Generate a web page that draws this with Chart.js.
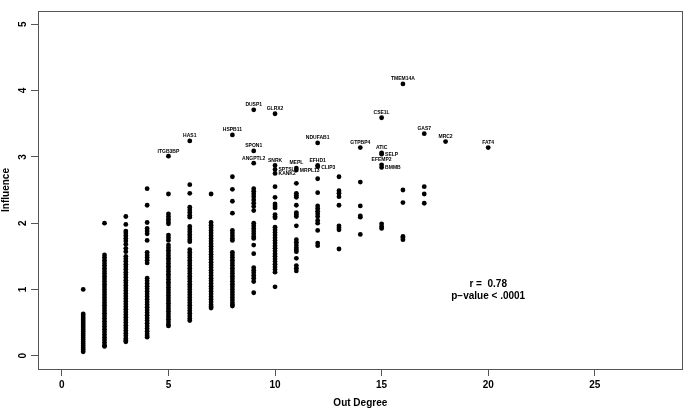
<!DOCTYPE html>
<html><head><meta charset="utf-8">
<script src="https://cdn.jsdelivr.net/npm/chart.js@4/dist/chart.umd.min.js"></script>
<style>html,body{margin:0;padding:0;background:#fff}canvas{display:block}</style>
</head><body>
<canvas id="c" width="685" height="409"></canvas>
<script>
// Influence values per out-degree column (unlabelled points)
const inf1 = [1.00,0.63,0.60,0.57,0.54,0.51,0.48,0.45,0.42,0.39,0.36,0.33,0.30,0.27,0.24,0.21,0.18,0.15,0.12,0.09,0.06];
const inf2 = [2.00,1.52,1.48,1.44,1.40,1.36,1.32,1.28,1.24,1.20,1.16,1.12,1.08,1.04,1.00,0.96,0.92,0.88,0.84,0.80,0.76,0.72,0.68,0.64,0.60,0.56,0.52,0.48,0.44,0.40,0.36,0.32,0.28,0.24,0.20,0.16,0.14];
const inf3 = [2.10,1.98,1.88,1.85,1.81,1.77,1.73,1.68,1.62,1.57,1.50,1.46,1.42,1.38,1.34,1.30,1.26,1.22,1.18,1.14,1.10,1.06,1.02,0.98,0.94,0.90,0.86,0.82,0.78,0.74,0.70,0.66,0.62,0.58,0.54,0.50,0.46,0.42,0.38,0.34,0.30,0.26,0.23,0.21];
const inf4 = [2.52,2.27,2.01,1.92,1.88,1.84,1.74,1.56,1.52,1.48,1.44,1.40,1.17,1.13,1.09,1.05,1.01,0.97,0.93,0.89,0.85,0.81,0.77,0.73,0.69,0.65,0.61,0.57,0.53,0.49,0.45,0.41,0.37,0.33,0.30,0.28];
const inf5 = [2.44,2.14,2.10,2.06,2.02,1.99,1.82,1.78,1.74,1.67,1.63,1.59,1.55,1.51,1.47,1.43,1.39,1.35,1.31,1.27,1.23,1.19,1.15,1.11,1.07,1.03,0.99,0.95,0.91,0.87,0.83,0.79,0.75,0.71,0.67,0.63,0.59,0.55,0.51,0.47,0.45];
const inf6 = [2.58,2.45,2.24,2.20,2.16,2.12,2.09,1.95,1.91,1.87,1.83,1.79,1.75,1.72,1.60,1.56,1.52,1.48,1.44,1.40,1.36,1.32,1.28,1.24,1.20,1.16,1.12,1.08,1.04,1.00,0.96,0.92,0.88,0.84,0.80,0.76,0.72,0.68,0.64,0.60,0.56,0.53];
const inf7 = [2.44,2.01,1.97,1.93,1.89,1.85,1.81,1.77,1.73,1.69,1.65,1.61,1.57,1.53,1.49,1.45,1.41,1.37,1.33,1.29,1.25,1.21,1.17,1.13,1.09,1.05,1.01,0.97,0.93,0.89,0.85,0.81,0.77,0.74,0.72];
const inf8 = [2.70,2.51,2.33,2.15,1.89,1.85,1.81,1.77,1.74,1.56,1.52,1.48,1.44,1.40,1.36,1.32,1.28,1.24,1.20,1.16,1.12,1.08,1.04,1.00,0.96,0.92,0.88,0.84,0.80,0.77,0.75];
const inf9 = [2.52,2.48,2.44,2.40,2.35,2.30,2.25,2.19,2.00,1.96,1.92,1.88,1.84,1.80,1.77,1.67,1.54,1.33,1.29,1.25,1.21,1.17,1.12,0.95];
const inf10 = [2.55,2.39,2.29,2.26,2.23,2.13,2.10,2.08,1.94,1.90,1.86,1.82,1.78,1.74,1.70,1.66,1.62,1.58,1.54,1.50,1.46,1.42,1.38,1.34,1.30,1.26,1.04];
const inf11 = [2.60,2.45,2.42,2.39,2.27,2.16,2.13,2.10,1.96,1.75,1.71,1.67,1.63,1.60,1.57,1.47,1.36,1.32,1.28];
const inf12 = [2.67,2.46,2.26,2.22,2.18,2.14,2.10,2.04,2.00,1.89,1.70,1.66];
const inf13 = [2.70,2.49,2.45,2.40,2.27,1.96,1.93,1.90,1.61];
const inf14 = [2.62,2.26,2.11,2.09,1.83];
const inf15 = [1.99,1.95,1.92];
const inf16 = [2.50,2.31,1.80,1.78,1.75];
const inf17 = [2.55,2.44,2.30];
const columns = [inf1,inf2,inf3,inf4,inf5,inf6,inf7,inf8,inf9,inf10,inf11,inf12,inf13,inf14,inf15,inf16,inf17];

// Labelled genes
const genes    = ["ITGB3BP","HAS1","HSPB11","DUSP1","SPON1","ANGPTL2","GLRX2","SNRK","SPTSL3","KANK2","MEPL","MRPL13","NDUFAB1","EFHD1","CLIP3","GTPBP4","CSE1L","ATIC","SELP","EFEMP2","BMMB","TMEM14A","GAS7","MRC2","FAT4"];
const geneDeg  = [5,6,8,9,9,9,10,10,10,10,11,11,12,12,12,14,15,15,15,15,15,16,17,18,20];
const geneInf  = [3.01,3.24,3.33,3.71,3.09,2.905,3.65,2.87,2.81,2.75,2.83,2.80,3.21,2.87,2.85,3.14,3.59,3.06,3.04,2.88,2.84,4.10,3.35,3.23,3.14];
const rightLabels = ["SPTSL3","KANK2","MRPL13","CLIP3","SELP","BMMB"];

const xTicks = [0,5,10,15,20,25];
const yTicks = [0,1,2,3,4,5];
const statText = ["r =  0.78", "p\u2212value < .0001"];

const pts = [];
columns.forEach((col, i) => col.forEach(v => pts.push({x: i + 1, y: v})));
genes.forEach((g, i) => pts.push({x: geneDeg[i], y: geneInf[i]}));

const FONT = '"Liberation Sans", Arial, Helvetica, sans-serif';
const AX = '#555';

const decor = {
  id: 'decor',
  afterDraw(chart) {
    const {ctx, chartArea: a, scales: {x, y}} = chart;
    ctx.save();
    ctx.strokeStyle = AX; ctx.lineWidth = 1;
    ctx.strokeRect(Math.round(a.left) + 0.5, Math.round(a.top) + 0.5, Math.round(a.right - a.left) - 1, Math.round(a.bottom - a.top));
    // gene labels
    ctx.fillStyle = '#000';
    ctx.font = 'bold 5px ' + FONT;
    genes.forEach((g, i) => {
      const px = x.getPixelForValue(geneDeg[i]);
      const py = y.getPixelForValue(geneInf[i]);
      if (rightLabels.includes(g)) {
        ctx.textAlign = 'left'; ctx.textBaseline = 'middle';
        ctx.fillText(g, px + 3.5, py + 0.5);
      } else {
        ctx.textAlign = 'center'; ctx.textBaseline = 'middle';
        ctx.fillText(g, px, py - 5);
      }
    });
    // stats
    ctx.font = 'bold 10px ' + FONT;
    ctx.textAlign = 'center'; ctx.textBaseline = 'middle';
    ctx.fillText(statText[0], x.getPixelForValue(20), y.getPixelForValue(1.08));
    ctx.fillText(statText[1], x.getPixelForValue(20), y.getPixelForValue(0.9));
    ctx.restore();
  }
};

new Chart(document.getElementById('c'), {
  type: 'scatter',
  data: {datasets: [{data: pts, backgroundColor: '#000', borderWidth: 0, pointRadius: 2.4, pointHoverRadius: 2.4}]},
  options: {
    responsive: false, animation: false, events: [],
    layout: {padding: {left: 0, right: 2, top: 1, bottom: 0}},
    plugins: {legend: {display: false}, tooltip: {enabled: false}},
    scales: {
      x: {
        type: 'linear', min: -1.12, max: 29.12,
        afterBuildTicks: s => { s.ticks = xTicks.map(v => ({value: v})); },
        afterFit: s => { s.height = 40; },
        border: {display: false},
        grid: {drawOnChartArea: false, drawTicks: true, tickLength: 7, color: AX},
        ticks: {color: '#000', font: {family: FONT, size: 10, weight: 'bold'}, padding: 3, maxRotation: 0},
        title: {display: true, text: 'Out Degree', color: '#000', font: {family: FONT, size: 10, weight: 'bold'}, padding: {top: 0, bottom: 0}}
      },
      y: {
        type: 'linear', min: -0.2, max: 5.2,
        afterBuildTicks: s => { s.ticks = yTicks.map(v => ({value: v})); },
        afterFit: s => { s.width = 38; },
        border: {display: false},
        grid: {drawOnChartArea: false, drawTicks: true, tickLength: 7, color: AX},
        ticks: {color: '#000', font: {family: FONT, size: 10, weight: 'bold'}, padding: 5, minRotation: 90, maxRotation: 90, crossAlign: 'center'},
        title: {display: true, text: 'Influence', color: '#000', font: {family: FONT, size: 10, weight: 'bold'}, padding: {top: 0, bottom: 0}}
      }
    }
  },
  plugins: [decor]
});
</script>
</body></html>
